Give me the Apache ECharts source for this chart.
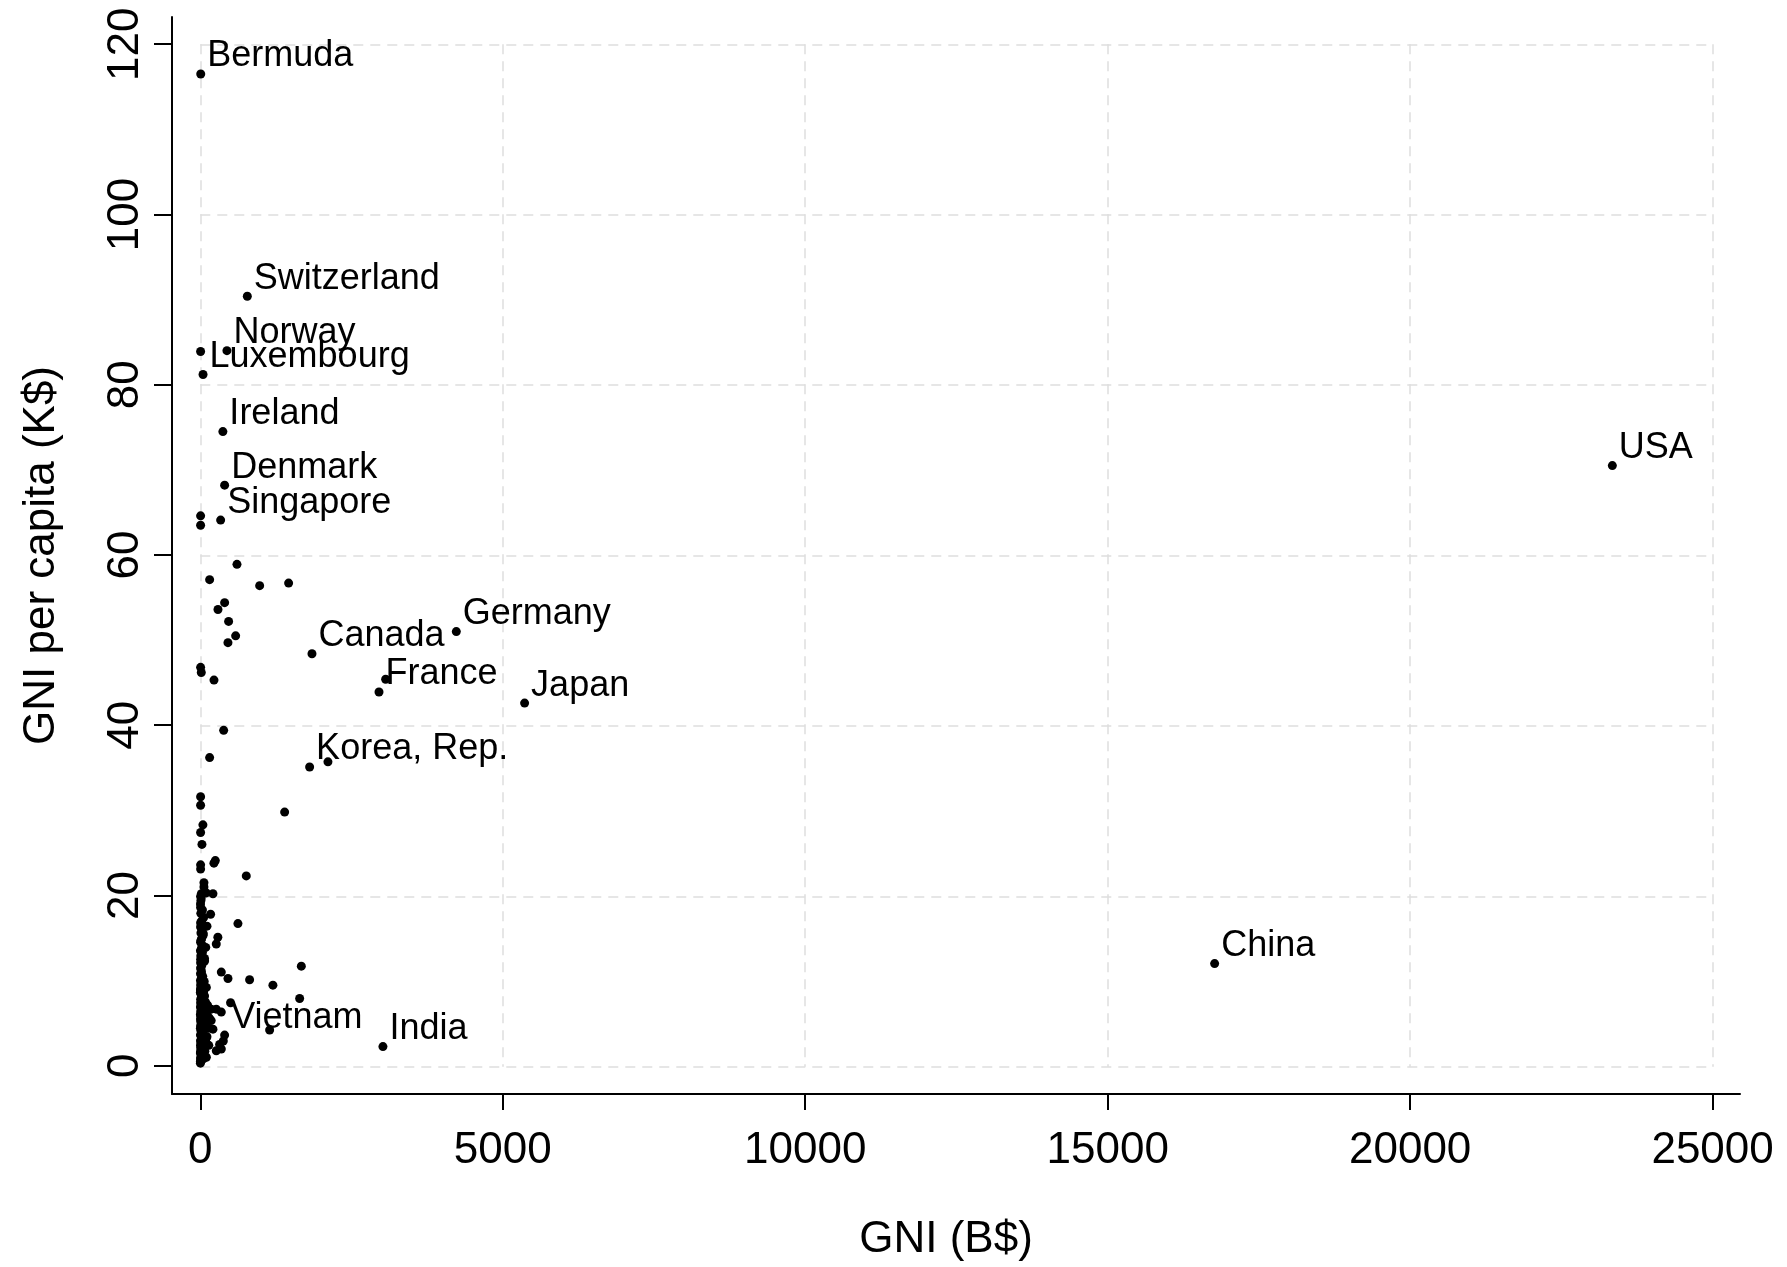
<!DOCTYPE html>
<html>
<head>
<meta charset="utf-8">
<title>GNI vs GNI per capita</title>
<script src="https://cdn.jsdelivr.net/npm/echarts@6.0.0/dist/echarts.min.js"></script>
<style>
    html, body { margin: 0; padding: 0; background: #fff; }
    #main { width: 1787px; height: 1267px; }
</style>
</head>
<body>
<div id="main"></div>
<script>
// labelled countries: GNI (B$), GNI per capita (K$)
var labelNames = ['Bermuda', 'Switzerland', 'Norway', 'Luxembourg', 'Ireland', 'Denmark', 'Singapore',
    'Germany', 'Canada', 'France', 'Japan', 'Korea, Rep.', 'USA', 'China', 'India', 'Vietnam'];
var labelGni = [7, 777, 440, 45, 373, 402, 336, 4232, 1846, 2954, 5361, 1807, 23343, 16768, 3019, 402];
var labelPc = [116.5, 90.4, 84.0, 81.2, 74.5, 68.2, 64.1, 51.0, 48.4, 43.9, 42.6, 35.1, 70.5, 12.0, 2.25, 3.6];

// other countries (no label)
var otherGni = [5, 5, 5, 606, 154, 981, 1460, 402, 292, 468, 584, 457, 5, 16, 226, 3064, 386, 154, 2110, 1394,
    5, 5, 43, 5, 27, 248, 225, 5, 5, 760, 60, 60, 209, 99, 17, 5, 10, 5, 170, 55, 5, 622,
    30, 10, 45, 20, 5, 40, 15, 35, 8, 290, 264, 71, 5, 1670, 347, 20, 5, 457, 815, 1200, 1642,
    500, 264, 180, 347, 1146, 209, 380, 347, 264, 319, 180,
    2, 8, 3, 15, 1, 30, 6, 60, 12, 4, 90, 20, 2, 45, 10, 130, 5, 25, 70, 3, 15, 110, 8, 40, 2, 18, 85, 6,
    30, 12, 55, 4, 22, 9, 65, 50, 100, 35, 75, 20, 140, 40, 110, 28, 60, 95, 35, 50, 150, 25, 120, 45,
    70, 3, 100, 35, 14, 40, 2, 18, 6, 4, 10, 2, 7, 1, 11, 5, 16, 1, 7, 3,
    3, 12, 25, 6, 18, 2, 28, 9, 50, 4, 22, 8, 35, 3, 15, 70, 90, 110];
var otherPc = [83.9, 64.6, 63.5, 58.9, 57.1, 56.4, 56.7, 54.4, 53.6, 52.2, 50.5, 49.7, 46.8, 46.2, 45.3, 45.4, 39.4, 36.2, 35.7, 29.8,
    31.6, 30.6, 28.3, 27.4, 26.0, 24.1, 23.8, 23.6, 23.1, 22.3, 21.5, 21.0, 20.2, 20.3, 20.2, 19.9, 19.4, 18.6, 17.8, 17.4, 16.8, 16.7,
    16.0, 15.6, 15.3, 14.9, 14.5, 14.1, 13.7, 13.3, 12.9, 15.1, 14.3, 12.3, 12.1, 11.7, 11.0, 11.0, 11.5, 10.25, 10.1, 9.47, 7.9,
    7.4, 6.65, 6.65, 6.3, 4.2, 4.3, 2.9, 1.96, 1.76, 2.5, 5.3,
    0.3, 0.6, 0.9, 1.2, 1.5, 1.8, 2.1, 2.3, 2.6, 2.9, 3.1, 3.3, 3.6, 3.9, 4.1, 4.4, 4.7, 5.0, 5.2, 5.5, 5.8, 6.0, 6.3, 6.6, 6.9, 7.2, 7.5, 7.8,
    8.1, 8.4, 8.7, 9.0, 9.3, 9.6, 9.9, 0.8, 1.0, 1.4, 1.7, 2.0, 2.4, 2.8, 3.4, 3.8, 4.3, 4.8, 5.4, 6.1, 5.6, 6.8, 7.1, 7.6,
    8.2, 8.9, 9.2, 9.7, 10.2, 10.5, 0.5, 0.9, 1.7, 2.4, 3.0, 4.4, 5.2, 6.0, 6.5, 7.4, 8.0, 8.6, 9.4, 10.0,
    10.8, 11.3, 11.8, 12.5, 13.0, 13.5, 14.0, 14.7, 15.5, 16.3, 17.0, 17.9, 18.3, 19.0, 19.7, 12.6, 13.9, 16.4];

// tick labels
var xTicks = [0, 5000, 10000, 15000, 20000, 25000];
var yTicks = [0, 20, 40, 60, 80, 100, 120];

var font = 'Liberation Sans, Arial, sans-serif';

var otherData = [];
for (var i = 0; i < otherGni.length; i++) {
    otherData.push([otherGni[i], otherPc[i]]);
}
var labelData = [];
for (var j = 0; j < labelNames.length; j++) {
    labelData.push({ name: labelNames[j], value: [labelGni[j], labelPc[j]] });
}

var myChart = echarts.init(document.getElementById('main'), null, { renderer: 'canvas' });
var option = {
    backgroundColor: '#ffffff',
    animation: false,
    grid: [
        // axes (stata style, axis lines a bit beyond the data range)
        { left: 172, top: 17, width: 1568, height: 1078 },
        // grid lines only, 0..25000 x 0..120
        { left: 200.3, top: 44.3, width: 1512, height: 1022.4 }
    ],
    xAxis: [{
        gridIndex: 0,
        type: 'value',
        min: -468,
        max: 25453,
        name: 'GNI (B$)',
        nameLocation: 'middle',
        nameGap: 124,
        nameTextStyle: { fontFamily: font, fontSize: 44, color: '#000', padding: [0, 20, 0, 0] },
        axisLine: { show: true, onZero: false, lineStyle: { color: '#000', width: 2 } },
        axisTick: { show: true, length: 16, customValues: xTicks, lineStyle: { color: '#000', width: 2 } },
        axisLabel: {
            customValues: xTicks,
            margin: 35,
            fontFamily: font,
            fontSize: 44,
            color: '#000',
            formatter: function (v) { return String(v); }
        },
        splitLine: { show: false }
    }, {
        gridIndex: 1,
        type: 'value',
        min: 0,
        max: 25000,
        interval: 5000,
        axisLine: { show: false },
        axisTick: { show: false },
        axisLabel: { show: false },
        splitLine: { show: true, lineStyle: { color: '#dedede', width: 1.5, type: [10, 7] } }
    }],
    yAxis: [{
        gridIndex: 0,
        type: 'value',
        min: -3.32,
        max: 123.2,
        name: 'GNI per capita (K$)',
        nameLocation: 'middle',
        nameGap: 108,
        nameTextStyle: { fontFamily: font, fontSize: 44, color: '#000' },
        axisLine: { show: true, onZero: false, lineStyle: { color: '#000', width: 2 } },
        axisTick: { show: true, length: 18, customValues: yTicks, lineStyle: { color: '#000', width: 2 } },
        axisLabel: {
            customValues: yTicks,
            rotate: 90,
            margin: 24,
            fontFamily: font,
            fontSize: 44,
            color: '#000',
            formatter: function (v) { return String(v); }
        },
        splitLine: { show: false }
    }, {
        gridIndex: 1,
        type: 'value',
        min: 0,
        max: 120,
        interval: 20,
        axisLine: { show: false },
        axisTick: { show: false },
        axisLabel: { show: false },
        splitLine: { show: true, lineStyle: { color: '#dedede', width: 1.5, type: [10, 7] } }
    }],
    series: [{
        name: 'others',
        type: 'scatter',
        xAxisIndex: 0,
        yAxisIndex: 0,
        symbol: 'circle',
        symbolSize: 9,
        itemStyle: { color: '#000', opacity: 1 },
        data: otherData
    }, {
        name: 'labelled',
        type: 'scatter',
        xAxisIndex: 0,
        yAxisIndex: 0,
        symbol: 'circle',
        symbolSize: 9,
        itemStyle: { color: '#000', opacity: 1 },
        label: {
            show: true,
            position: 'right',
            distance: 2,
            offset: [0, -17.5],
            formatter: '{b}',
            fontFamily: font,
            fontSize: 36,
            color: '#000'
        },
        data: labelData
    }]
};
myChart.setOption(option);
</script>
</body>
</html>
